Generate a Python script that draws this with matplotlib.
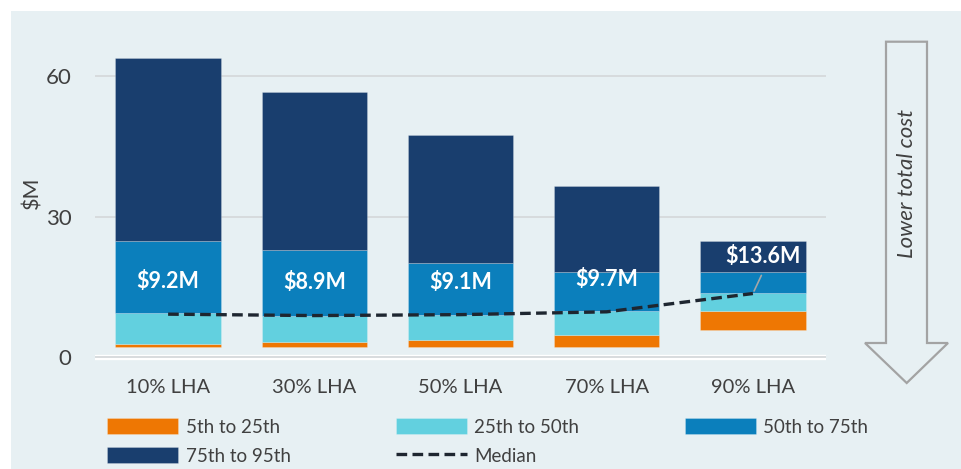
import numpy as np
import matplotlib.pyplot as plt
import matplotlib.patches as mpatches

plt.rcParams['font.family'] = ['Lato', 'DejaVu Sans']

categories = ["10% LHA", "30% LHA", "50% LHA", "70% LHA", "90% LHA"]
p5 = [2.3, 2.3, 2.3, 2.3, 5.8]
p25 = [2.9, 3.3, 3.75, 4.8, 9.9]
p50 = [9.4, 8.9, 9.0, 9.8, 13.7]
p75 = [24.8, 22.8, 20.2, 18.1, 18.1]
p95 = [63.75, 56.6, 47.3, 36.5, 24.7]
median = [9.2, 8.9, 9.1, 9.7, 13.6]
median_labels = ["$9.2M", "$8.9M", "$9.1M", "$9.7M", "$13.6M"]

c_orange = '#ee7703'
c_teal = '#62d0df'
c_blue = '#0b7fbc'
c_navy = '#193e6e'
bg = '#e7f0f3'
txt = '#404040'

W, H = 962, 469
fig = plt.figure(figsize=(W / 100, H / 100), dpi=100)
fig.patch.set_facecolor('white')
fig.add_artist(mpatches.Rectangle((11 / W, 0), 1 - 11 / W, 1 - 11 / H,
                                  transform=fig.transFigure, facecolor=bg,
                                  edgecolor='none', zorder=-10))

ax = fig.add_axes([95 / W, (H - 362) / H, 731 / W, (362 - 43.1) / H])
ax.set_facecolor('none')
x = np.arange(len(categories))
bw = 0.72

p5a, p25a, p50a, p75a, p95a = map(np.array, (p5, p25, p50, p75, p95))
ec = (1, 1, 1, 0.25)
ax.bar(x, p25a - p5a, bw, bottom=p5a, color=c_orange, edgecolor=ec, lw=0.6, label='5th to 25th', zorder=3)
ax.bar(x, p50a - p25a, bw, bottom=p25a, color=c_teal, edgecolor=ec, lw=0.6, label='25th to 50th', zorder=3)
ax.bar(x, p75a - p50a, bw, bottom=p50a, color=c_blue, edgecolor=ec, lw=0.6, label='50th to 75th', zorder=3)
ax.bar(x, p95a - p75a, bw, bottom=p75a, color=c_navy, edgecolor=ec, lw=0.6, label='75th to 95th', zorder=3)
ax.plot(x, median, color='#1e2630', lw=2.4, dashes=(3.2, 1.6), label='Median', zorder=5)

# median labels
label_y = [16.1, 15.9, 16.0, 16.5, 21.6]
label_dx = [0, 0, 0, 0, 0.07]
for i, lab in enumerate(median_labels):
    ax.text(x[i] + label_dx[i], label_y[i], lab, ha='center', va='center',
            color='white', fontsize=15.5, fontweight='bold', zorder=6)
ax.annotate('', xy=(x[4], median[4]), xytext=(x[4] + 0.066, 18.0),
            arrowprops=dict(arrowstyle='-', color='#a6a6a6', lw=1.2), zorder=6)

ax.set_xlim(-0.5, 4.5)
ax.set_ylim(-1, 67)
ax.set_yticks([0, 30, 60])
ax.yaxis.grid(True, color='#d6d9db', lw=1.3, zorder=0)
ax.axhline(0, color='white', lw=3.8, zorder=1)
ax.set_xticks(x)
ax.set_xticklabels(categories)
ax.tick_params(axis='both', length=0, colors=txt)
ax.tick_params(axis='y', labelsize=16, pad=17)
ax.tick_params(axis='x', labelsize=14.5, pad=12)
for s in ax.spines.values():
    s.set_visible(False)

fig.text(32 / W, 1 - 193 / H, '$M', rotation=90, ha='center', va='center',
         color=txt, fontsize=15.5)

# legend
h, l = ax.get_legend_handles_labels()
order = [1, 4, 2, 0, 3]  # 5-25, 75-95, 25-50, median, 50-75
leg = fig.legend([h[i] for i in order], [l[i] for i in order], ncol=3,
                 loc='upper left', bbox_to_anchor=(107 / W, 1 - 418 / H),
                 frameon=False, fontsize=13.5, handlelength=3.8, handleheight=0.95,
                 handletextpad=0.4, columnspacing=5.6, labelspacing=0.62,
                 labelcolor=txt, borderaxespad=0, borderpad=0)

# lower total cost arrow
def px(px_x, px_y):
    return (px_x / 100, (H - px_y) / 100)

verts = [px(886, 41.7), px(927, 41.7), px(927, 343), px(948, 343),
         px(906.7, 383), px(865, 343), px(886, 343)]
fig.add_artist(mpatches.Polygon(verts, closed=True, transform=fig.dpi_scale_trans,
                                facecolor=bg, edgecolor='#a3a3a3', lw=1.6))
fig.text(906.7 / W, 1 - 184 / H, 'Lower total cost', rotation=90, ha='center',
         va='center', color=txt, fontsize=16, style='italic')

fig.savefig('out.png', dpi=100)
